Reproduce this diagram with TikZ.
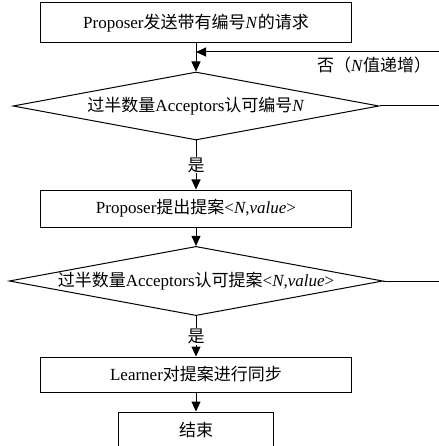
\documentclass[tikz,border=0pt]{standalone}
\usepackage{fontspec}
\setmainfont{Liberation Serif}
\newfontfamily\cjk{Noto Sans CJK SC}
\newcommand{\zh}[1]{{\cjk #1}}
\usetikzlibrary{arrows.meta,shapes.geometric}

\begin{document}
\begin{tikzpicture}[x=1pt,y=1pt,line width=1pt,
		every node/.style={font=\fontsize{17}{20}\selectfont},
		procbox/.style={draw,rectangle,minimum width=311pt,inner sep=0pt},
		decide/.style={draw,diamond,minimum width=366pt,minimum height=68pt,shape aspect=5.4,inner sep=0pt},
		flow/.style={-{Triangle[length=10pt,width=9pt]}},
		answer/.style={fill=white,inner sep=1pt}]
			\useasboundingbox (0,0) rectangle (438,-446);
			\node[procbox,minimum height=40pt] (b1) at (196,-23){Proposer\zh{发送带有编号}\textit{N}\zh{的请求}};
			\node[decide] (d1) at (196,-106){\zh{过半数量}Acceptors\zh{认可编号}\textit{N}};
			\node[procbox,minimum height=37pt] (b2) at (196,-208.5){Proposer\zh{提出提案}<\textit{N},\textit{value}>};
			\node[decide] (d2) at (196,-281){\zh{过半数量}Acceptors\zh{认可提案}<\textit{N},\textit{value}>};
			\node[procbox,minimum height=35pt] (b3) at (196,-374.5){Learner\zh{对提案进行同步}};
			\node[draw,rectangle,minimum width=155pt,minimum height=36pt] (b4) at (196,-430){\zh{结束}};
			\coordinate (fb) at (440,-52);
			\coordinate (r1) at (440,-106);
			\coordinate (r2) at (440,-281);
			\node[anchor=east] (no) at (435,-65){\zh{否（}\textit{N}\zh{值递增）}};
			\draw[flow] (b1) -- (d1);
			\draw[flow] (fb) -- (b1.south |- fb);
			\draw (d1.east) -- (r1);
			\draw[flow] (d1) -- node[answer] (yes1) {\zh{是}} (b2);
			\draw[flow] (b2) -- (d2);
			\draw (d2.east) -- (r2);
			\draw[flow] (d2) -- node[answer] (yes2) {\zh{是}} (b3);
			\draw[flow] (b3) -- (b4);
		\end{tikzpicture}
\end{document}
